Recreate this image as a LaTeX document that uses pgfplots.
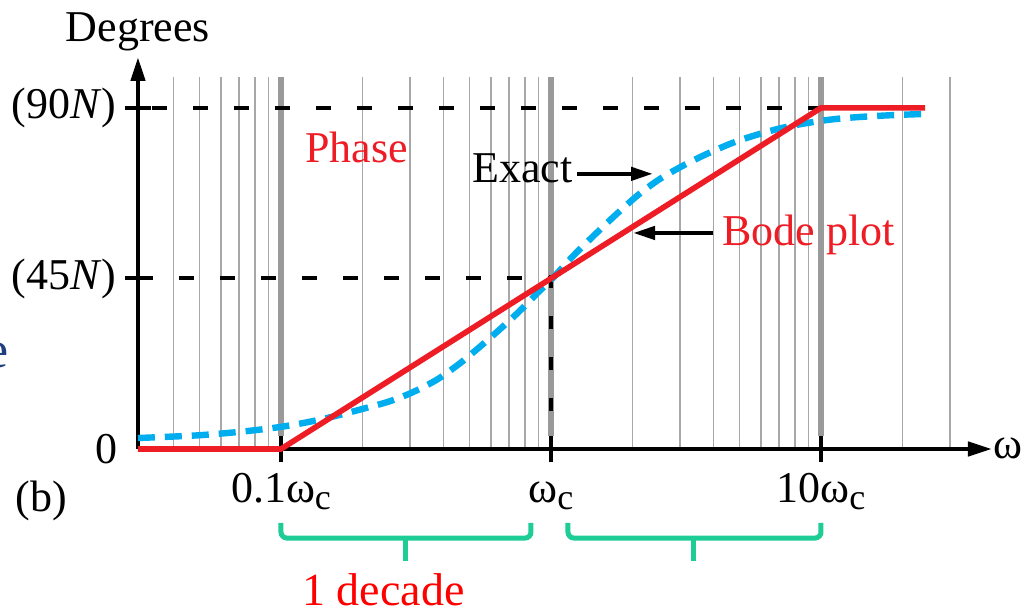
\documentclass[border=0pt]{standalone}
\usepackage{fontspec}
\setmainfont{Liberation Serif}
\usepackage{pgfplots}
\usepackage{pgfplotstable}
\pgfplotsset{compat=1.18}
\usetikzlibrary{arrows.meta}
\definecolor{bodered}{HTML}{EE1C25}
\definecolor{exactblue}{HTML}{00AEEF}
\definecolor{bracegreen}{HTML}{1ECC96}
\definecolor{gridgray}{HTML}{A8A8A8}
\definecolor{thickgray}{HTML}{9A9A9A}
\definecolor{navyblue}{HTML}{1F3F7F}
\newcommand\sub[1]{\raisebox{-3.5pt}{\fontsize{18}{18}\selectfont #1}}
\newcommand\bigf{\fontsize{22}{26}\selectfont}

\pgfplotstableread{
w deg
0.0295 2.9
0.049 3.6
0.072 4.6
0.099 5.8
0.128 7.2
0.161 8.8
0.201 10.6
0.253 12.6
0.308 15.0
0.378 18.3
0.454 22.3
0.546 27.0
0.647 31.6
0.768 36.5
0.895 41.3
1.0 44.6
1.21 51.0
1.45 56.5
1.75 62.0
2.1 67.0
2.5 71.0
3.0 74.3
3.66 77.4
4.6 80.5
5.6 82.6
7.05 84.6
8.87 86.0
11.1 87.0
13.9 87.6
18.5 88.1
24.3 88.4
}\exacttable

\begin{document}
\begin{tikzpicture}
\begin{axis}[
  scale only axis, width=427pt, height=196pt,
  xmode=log, log basis x=10,
  xmin=0.02953, xmax=42.99, ymin=0, ymax=103.43,
  axis lines=left,
  axis line style={line width=2.2pt, black, -{Triangle[length=12pt,width=7pt]}},
  clip=false,
  xtick={0.1,1,10}, xticklabels={0.1ω\sub{c},ω\sub{c},10ω\sub{c}},
  ytick={45,90}, yticklabels={(45\textit{N}),(90\textit{N})},
  extra y ticks={0}, extra y tick labels={0},
  extra y tick style={major tick length=0pt, yticklabel style={xshift=-6pt}},
  xminorticks=false, yminorticks=false,
  major tick length=13pt, tick align=center,
  tick style={black, line width=2pt},
  ticklabel style={font=\bigf, inner sep=0pt},
  xticklabel style={anchor=base, yshift=-20pt},
  yticklabel style={anchor=east, xshift=-4pt},
]
% grid lines
\pgfplotsinvokeforeach{0.04,0.05,0.06,0.07,0.08,0.09,0.2,0.3,0.4,0.5,0.6,0.7,0.8,0.9,2,3,4,5,6,7,8,9,20,30}{
  \draw[gridgray, line width=0.75pt] (axis cs:#1,0.6) -- (axis cs:#1,98.2);
}
\pgfplotsinvokeforeach{0.1,1,10}{
  \draw[thickgray, line width=2.6pt] (axis cs:#1,3.5) -- (axis cs:#1,98.2);
}
% reference dashed lines
\draw[black, line width=2pt, dash pattern=on 7.5pt off 13pt] (axis cs:0.03329,90) -- (axis cs:10,90);
\draw[black, line width=2pt, dash pattern=on 7.5pt off 13pt] (axis cs:0.02953,45) -- (axis cs:1,45);
\draw[black, line width=2.2pt, dash pattern=on 6.5pt off 14pt] (axis cs:1,45.9) -- (axis cs:1,0);
% curves
\addplot[exactblue, line width=3.2pt, dash pattern=on 8.5pt off 5pt, smooth, tension=0.5] table[x=w, y=deg] {\exacttable};
\addplot[bodered, line width=2.8pt] coordinates {(0.02953,0) (0.1,0) (10,90) (24.3,90)};
% annotations
\node[anchor=base west, inner sep=0pt, text=bodered, font=\bigf] at (axis cs:0.1227,75.7) {Phase};
\node[anchor=base west, inner sep=0pt, font=\bigf] at (axis cs:0.5096,70.2) {Exact};
\draw[line width=2.2pt, -{Triangle[length=11pt,width=6.5pt]}] (axis cs:1.248,72.6) -- (axis cs:2.387,72.6);
\node[anchor=base west, inner sep=0pt, text=bodered, font=\bigf] at (axis cs:4.30,53.8) {Bode plot};
\draw[line width=2.2pt, -{Triangle[length=11pt,width=6.5pt]}] (axis cs:3.98,57.0) -- (axis cs:2.013,57.0);
% labels
\node[anchor=base, inner sep=0pt, font=\bigf] at (axis cs:0.02953,107.65) {Degrees};
\node[anchor=base west, inner sep=0pt, font=\bigf] at (axis cs:43.35,-2.4) {ω};
\node[anchor=base west, inner sep=0pt, font=\bigf] at (axis cs:0.01035,-16.4) {(b)};
\node[anchor=base east, inner sep=0pt, text=navyblue, font=\fontsize{26}{30}\selectfont] at (axis cs:0.00983,21.6) {e};
% braces
\draw[bracegreen, line width=2.5pt, rounded corners=3pt] (axis cs:0.1,-19.5) -- (axis cs:0.1,-23.5) -- (axis cs:0.843,-23.5) -- (axis cs:0.843,-19.5);
\draw[bracegreen, line width=2.5pt] (axis cs:0.290,-23.5) -- (axis cs:0.290,-29.6);
\draw[bracegreen, line width=2.5pt, rounded corners=3pt] (axis cs:1.156,-19.5) -- (axis cs:1.156,-23.5) -- (axis cs:10,-23.5) -- (axis cs:10,-19.5);
\draw[bracegreen, line width=2.5pt] (axis cs:3.386,-23.5) -- (axis cs:3.386,-29.6);
\node[anchor=base west, inner sep=0pt, text=red, font=\fontsize{23}{27}\selectfont] at (axis cs:0.1196,-41.2) {1 decade};
% bounding box corners
\coordinate (BL) at (axis cs:0.009104,-42.48);
\coordinate (TR) at (axis cs:58.44,118.47);
\end{axis}
\pgfresetboundingbox
\useasboundingbox (BL) rectangle (TR);
\end{tikzpicture}
\end{document}
